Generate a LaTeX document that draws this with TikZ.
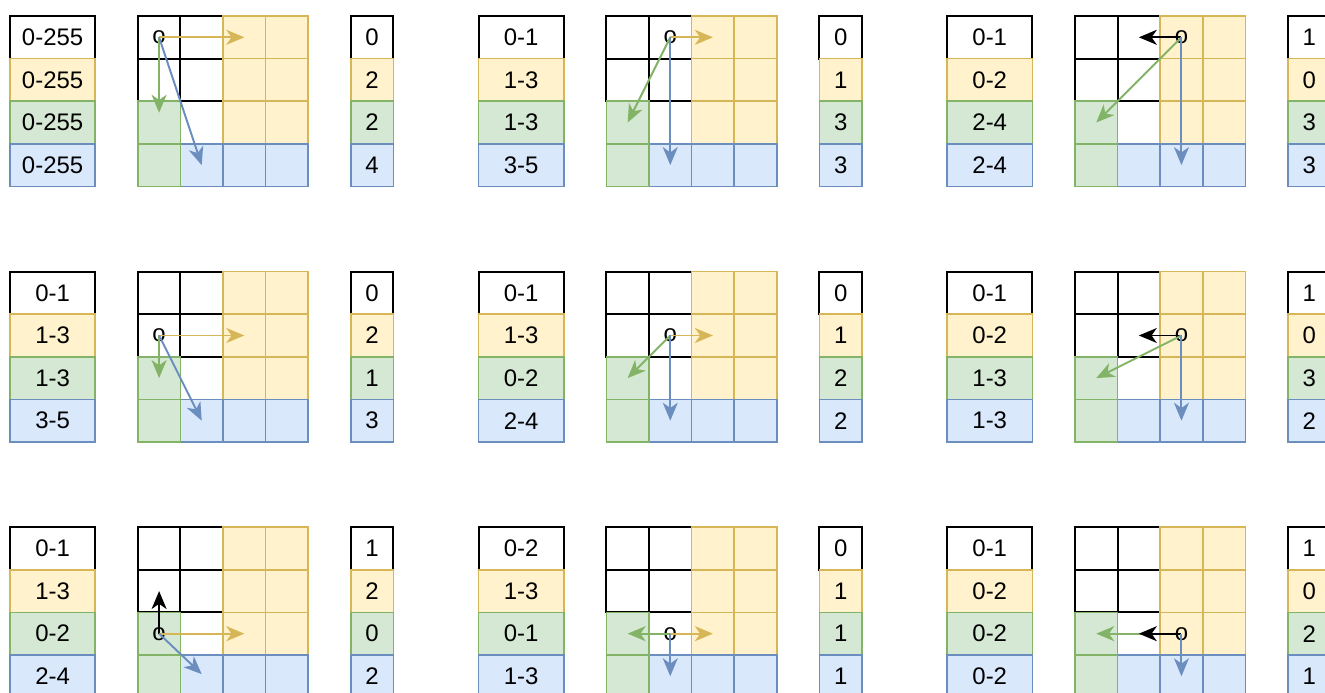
\documentclass[tikz,border=0pt]{standalone}
\usepackage{fontspec}
\setmainfont{Liberation Sans}
\usepackage{tikz}
\usetikzlibrary{arrows.meta,positioning}

\definecolor{ylwfill}{HTML}{FFF2CC}
\definecolor{ylwline}{HTML}{D6B656}
\definecolor{grnfill}{HTML}{D5E8D4}
\definecolor{grnline}{HTML}{82B366}
\definecolor{blufill}{HTML}{DAE8FC}
\definecolor{bluline}{HTML}{6C8EBF}

\begin{document}
\begin{tikzpicture}[
  every node/.style={font=\fontsize{16}{19}\selectfont},
  cell/.style={minimum width=1cm,minimum height=1cm,inner sep=0pt,outer sep=0pt,line width=1.1pt},
  wh/.style={cell,draw=black,fill=white,line width=1.4pt},
  yl/.style={cell,draw=ylwline,fill=ylwfill},
  gr/.style={cell,draw=grnline,fill=grnfill},
  bl/.style={cell,draw=bluline,fill=blufill},
  wide/.style={minimum width=2cm},
  cur/.style={inner sep=0pt},
  mv/.style={-{Stealth[length=12pt,width=10pt,inset=3.5pt]},line width=1.3pt}]
\useasboundingbox (-0.235,0.376) rectangle (30.87,-15.89);

\foreach \p/\px/\py/\la/\lb/\lc/\ld/\ra/\rb/\rc/\rd in {
    1/0/0/0-255/0-255/0-255/0-255/0/2/2/4,
    2/11/0/0-1/1-3/1-3/3-5/0/1/3/3,
    3/22/0/0-1/0-2/2-4/2-4/1/0/3/3,
    4/0/-6/0-1/1-3/1-3/3-5/0/2/1/3,
    5/11/-6/0-1/1-3/0-2/2-4/0/1/2/2,
    6/22/-6/0-1/0-2/1-3/1-3/1/0/3/2,
    7/0/-12/0-1/1-3/0-2/2-4/1/2/0/2,
    8/11/-12/0-2/1-3/0-1/1-3/0/1/1/1,
    9/22/-12/0-1/0-2/0-2/0-2/1/0/2/1}{
  % ranges
  \node[wh,wide] (l\p-1) at (\px+1,\py-0.5) {\la};
  \node[yl,wide,below=0pt of l\p-1] (l\p-2) {\lb};
  \node[gr,wide,below=0pt of l\p-2] (l\p-3) {\lc};
  \node[bl,wide,below=0pt of l\p-3] (l\p-4) {\ld};
  % grid
  \foreach \i/\j in {0/0,1/0,0/1,1/1}
    \node[wh] (g\p-\i-\j) at (\px+3.5+\i,\py-0.5-\j) {};
  \foreach \i/\j in {2/0,3/0,2/1,3/1,2/2,3/2}
    \node[yl] (g\p-\i-\j) at (\px+3.5+\i,\py-0.5-\j) {};
  \foreach \i/\j in {1/3,2/3,3/3}
    \node[bl] (g\p-\i-\j) at (\px+3.5+\i,\py-0.5-\j) {};
  \foreach \i/\j in {0/2,0/3}
    \node[gr] (g\p-\i-\j) at (\px+3.5+\i,\py-0.5-\j) {};
  \coordinate (g\p-1-2) at (\px+4.5,\py-2.5);
  % counts
  \node[wh] (r\p-1) at (\px+8.5,\py-0.5) {\ra};
  \node[yl,below=0pt of r\p-1] (r\p-2) {\rb};
  \node[gr,below=0pt of r\p-2] (r\p-3) {\rc};
  \node[bl,below=0pt of r\p-3] (r\p-4) {\rd};
}

% row 1
\node[cur] (o1) at (g1-0-0) {o};
\draw[mv,ylwline] (o1.center) -- (g1-2-0.center);
\draw[mv,grnline] (o1.center) -- ([yshift=0.23cm]g1-0-2.center);
\draw[mv,bluline] (o1.center) -- (g1-1-3.center);

\node[cur] (o2) at (g2-1-0) {o};
\draw[mv,ylwline] (o2.center) -- (g2-2-0.center);
\draw[mv,grnline] (o2.center) -- (g2-0-2.center);
\draw[mv,bluline] (o2.center) -- (g2-1-3.center);

\node[cur] (o3) at (g3-2-0) {o};
\draw[mv,black] (o3.center) -- (g3-1-0.center);
\draw[mv,grnline] (o3.center) -- (g3-0-2.center);
\draw[mv,bluline] (o3.center) -- (g3-2-3.center);

% row 2
\node[cur] (o4) at (g4-0-1) {o};
\draw[mv,ylwline] (o4.center) -- (g4-2-1.center);
\draw[mv,grnline] (o4.center) -- (g4-0-2.center);
\draw[mv,bluline] (o4.center) -- (g4-1-3.center);

\node[cur] (o5) at (g5-1-1) {o};
\draw[mv,ylwline] (o5.center) -- (g5-2-1.center);
\draw[mv,grnline] (o5.center) -- (g5-0-2.center);
\draw[mv,bluline] (o5.center) -- (g5-1-3.center);

\node[cur] (o6) at (g6-2-1) {o};
\draw[mv,black] (o6.center) -- (g6-1-1.center);
\draw[mv,grnline] (o6.center) -- (g6-0-2.center);
\draw[mv,bluline] (o6.center) -- (g6-2-3.center);

% row 3
\node[cur] (o7) at (g7-0-2) {o};
\draw[mv,black] (o7.center) -- (g7-0-1.center);
\draw[mv,ylwline] (o7.center) -- (g7-2-2.center);
\draw[mv,bluline] (o7.center) -- ([yshift=0.05cm]g7-1-3.center);

\node[cur] (o8) at (g8-1-2) {o};
\draw[mv,grnline] (o8.center) -- (g8-0-2.center);
\draw[mv,ylwline] (o8.center) -- (g8-2-2.center);
\draw[mv,bluline] (o8.center) -- (g8-1-3.center);

\node[cur] (o9) at (g9-2-2) {o};
\draw[mv,grnline] (o9.center) -- (g9-0-2.center);
\draw[mv,black] (o9.center) -- (g9-1-2.center);
\draw[mv,bluline] (o9.center) -- (g9-2-3.center);
\end{tikzpicture}
\end{document}
